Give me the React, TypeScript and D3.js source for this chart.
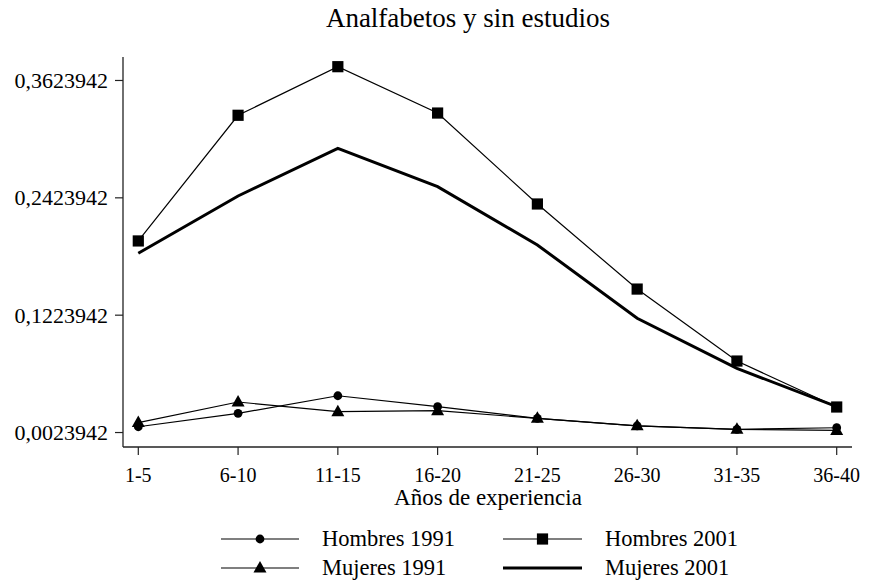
import React from "react";
import * as d3 from "d3";

const categories = ["1-5", "6-10", "11-15", "16-20", "21-25", "26-30", "31-35", "36-40"];
const hombres1991 = [0.0083, 0.0220, 0.0400, 0.0288, 0.0169, 0.0093, 0.0057, 0.0073];
const mujeres1991 = [0.0126, 0.0336, 0.0237, 0.0247, 0.0169, 0.0093, 0.0057, 0.0046];
const hombres2001 = [0.1983, 0.3268, 0.3765, 0.3291, 0.2361, 0.1491, 0.0755, 0.0285];
const mujeres2001 = [0.1857, 0.2443, 0.2930, 0.2538, 0.1942, 0.1192, 0.0680, 0.0288];
const yTicks = [0.0023942, 0.1223942, 0.2423942, 0.3623942];
const yTickLabels = ["0,0023942", "0,1223942", "0,2423942", "0,3623942"];

const W = 873;
const H = 588;
const FONT = "'Liberation Serif', 'Times New Roman', serif";

export default function App() {
  const x = d3.scalePoint<string>().domain(categories).range([138.3, 836.7]);
  const y = d3.scaleLinear().domain([-0.0124, 0.3864]).range([447, 57]);
  const line = d3
    .line<number>()
    .x((_, i) => x(categories[i]) as number)
    .y((d) => y(d));

  const tri = (cx: number, cy: number) =>
    `M${cx},${cy - 7}L${cx + 6.5},${cy + 4.5}L${cx - 6.5},${cy + 4.5}Z`;

  const legendItems = [
    { label: "Hombres 1991", col: 0, row: 0, marker: "circle", width: 1.2 },
    { label: "Hombres 2001", col: 1, row: 0, marker: "square", width: 1.2 },
    { label: "Mujeres 1991", col: 0, row: 1, marker: "triangle", width: 1.2 },
    { label: "Mujeres 2001", col: 1, row: 1, marker: "none", width: 3 },
  ];
  const legCols = [
    { x1: 221, x2: 299, text: 322 },
    { x1: 503, x2: 582, text: 605 },
  ];
  const legRows = [539, 568];

  const drawMarker = (m: string, cx: number, cy: number, key: string) => {
    if (m === "circle") return <circle key={key} cx={cx} cy={cy} r={4.4} fill="#000" />;
    if (m === "square")
      return <rect key={key} x={cx - 5.6} y={cy - 5.6} width={11.2} height={11.2} fill="#000" />;
    if (m === "triangle") return <path key={key} d={tri(cx, cy)} fill="#000" />;
    return null;
  };

  return (
    <svg width={W} height={H} style={{ display: "block", position: "absolute", left: 0, top: 0, background: "#fff" }}>
      <rect x={0} y={0} width={W} height={H} fill="#fff" />
      <text x={468} y={27} textAnchor="middle" fontFamily={FONT} fontSize={27} fill="#000">
        Analfabetos y sin estudios
      </text>

      {/* axes */}
      <line x1={123} x2={123} y1={57} y2={447} stroke="#222" strokeWidth={1.3} />
      <line x1={123} x2={852} y1={447} y2={447} stroke="#222" strokeWidth={1.3} />
      {yTicks.map((t, i) => (
        <g key={"yt" + i}>
          <line x1={115} x2={123} y1={y(t)} y2={y(t)} stroke="#222" strokeWidth={1.2} />
          <text x={108} y={y(t) + 7.5} textAnchor="end" fontFamily={FONT} fontSize={22} fill="#000">
            {yTickLabels[i]}
          </text>
        </g>
      ))}
      {categories.map((c) => (
        <g key={"xt" + c}>
          <line x1={x(c)} x2={x(c)} y1={447} y2={455} stroke="#222" strokeWidth={1.2} />
          <text x={x(c)} y={481.5} textAnchor="middle" fontFamily={FONT} fontSize={20} fill="#000">
            {c}
          </text>
        </g>
      ))}
      <text x={488} y={505} textAnchor="middle" fontFamily={FONT} fontSize={23} fill="#000">
        Años de experiencia
      </text>

      {/* series */}
      <path d={line(hombres1991) || ""} fill="none" stroke="#000" strokeWidth={1.2} />
      <path d={line(mujeres1991) || ""} fill="none" stroke="#000" strokeWidth={1.2} />
      <path d={line(hombres2001) || ""} fill="none" stroke="#000" strokeWidth={1.2} />
      <path d={line(mujeres2001) || ""} fill="none" stroke="#000" strokeWidth={3} strokeLinejoin="miter" />
      {hombres1991.map((v, i) => drawMarker("circle", x(categories[i]) as number, y(v), "c" + i))}
      {mujeres1991.map((v, i) => drawMarker("triangle", x(categories[i]) as number, y(v), "t" + i))}
      {hombres2001.map((v, i) => drawMarker("square", x(categories[i]) as number, y(v), "s" + i))}

      {/* legend */}
      {legendItems.map((it) => {
        const c = legCols[it.col];
        const cy = legRows[it.row];
        const mx = (c.x1 + c.x2) / 2;
        return (
          <g key={it.label}>
            <line x1={c.x1} x2={c.x2} y1={cy} y2={cy} stroke="#000" strokeWidth={it.width} />
            {drawMarker(it.marker, mx, cy, "m")}
            <text x={c.text} y={cy + 7} fontFamily={FONT} fontSize={22.5} fill="#000">
              {it.label}
            </text>
          </g>
        );
      })}
    </svg>
  );
}
